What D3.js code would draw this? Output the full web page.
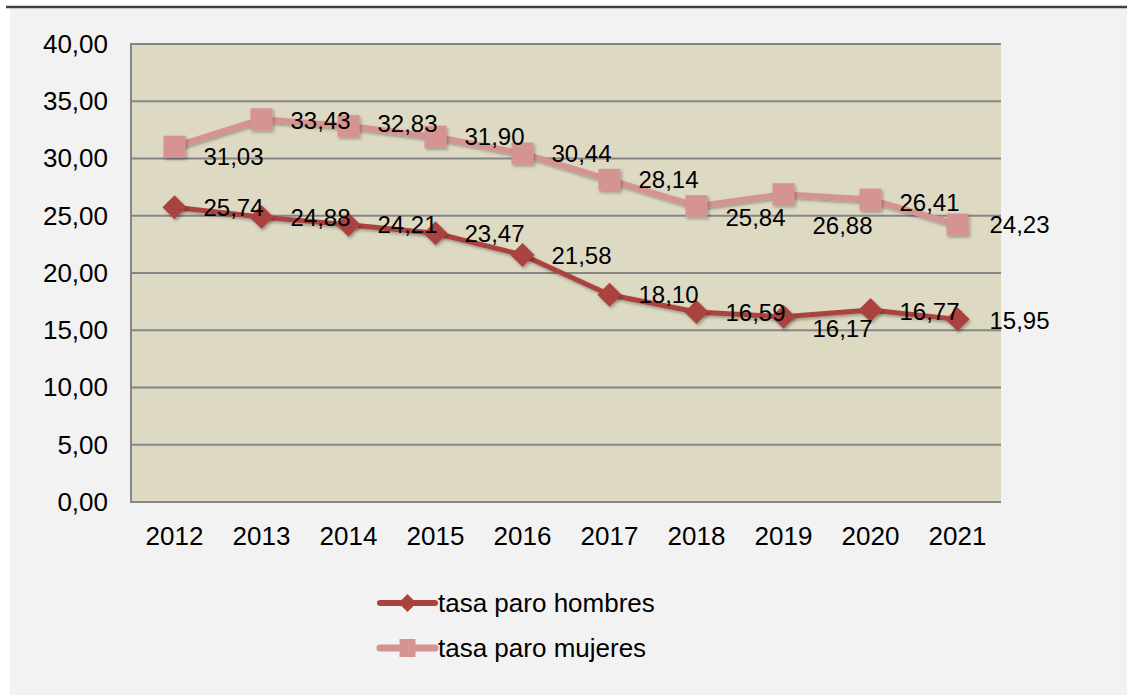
<!DOCTYPE html>
<html>
<head>
<meta charset="utf-8">
<script src="https://cdn.jsdelivr.net/npm/d3@7"></script>
<style>
  html, body { margin: 0; padding: 0; background: #fff; }
  svg { display: block; font-family: "Liberation Sans", Arial, sans-serif; }
</style>
</head>
<body>
<script>
// datos
const years = ["2012", "2013", "2014", "2015", "2016", "2017", "2018", "2019", "2020", "2021"];
const hombres = [25.74, 24.88, 24.21, 23.47, 21.58, 18.10, 16.59, 16.17, 16.77, 15.95];
const mujeres = [31.03, 33.43, 32.83, 31.90, 30.44, 28.14, 25.84, 26.88, 26.41, 24.23];
const yTicks = [0, 5, 10, 15, 20, 25, 30, 35, 40];
const seriesNames = ["tasa paro hombres", "tasa paro mujeres"];
// desplazamiento vertical de etiquetas (px), como en el original
const shiftHombres = [0, 0, 0, 0, 0, 0, 0, 12, 1, 1];
const shiftMujeres = [10, 1, -3, 0, 0, 0, 11, 31, 3, 0];

const W = 1127, H = 695;
const plot = { left: 131, right: 1001, top: 44, bottom: 502 };
const fmt = v => v.toFixed(2).replace(".", ",");
const FONT = "Liberation Sans, Arial, sans-serif";

const svg = d3.select("body").append("svg").attr("width", W).attr("height", H);

const defs = svg.append("defs");
const f = defs.append("filter").attr("id", "sh").attr("x", "-30%").attr("y", "-30%").attr("width", "160%").attr("height", "160%");
f.append("feDropShadow").attr("dx", 1.5).attr("dy", 2).attr("stdDeviation", 1.5).attr("flood-color", "#000").attr("flood-opacity", 0.3);

// fondo
svg.append("rect").attr("x", 10).attr("y", 8).attr("width", W - 10).attr("height", H - 8).attr("fill", "#f2f2f2");
svg.append("line").attr("x1", 6).attr("x2", W).attr("y1", 7).attr("y2", 7).attr("stroke", "#404040").attr("stroke-width", 2.5);

const x = d3.scaleBand().domain(years).range([plot.left, plot.right]);
const y = d3.scaleLinear().domain([0, 40]).range([plot.bottom, plot.top]);

svg.append("rect")
  .attr("x", plot.left).attr("y", plot.top)
  .attr("width", plot.right - plot.left).attr("height", plot.bottom - plot.top)
  .attr("fill", "#ddd9c3");

// cuadrícula
svg.append("g")
  .selectAll("line").data(yTicks).join("line")
  .attr("x1", plot.left).attr("x2", plot.right)
  .attr("y1", d => y(d)).attr("y2", d => y(d))
  .attr("stroke", "#868686").attr("stroke-width", 2);

svg.append("line")
  .attr("x1", plot.left).attr("x2", plot.left)
  .attr("y1", plot.top - 1).attr("y2", plot.bottom + 1)
  .attr("stroke", "#868686").attr("stroke-width", 2);

// eje y
const yAxis = svg.append("g")
  .attr("transform", `translate(${plot.left},0)`)
  .call(d3.axisLeft(y).tickValues(yTicks).tickFormat(fmt).tickSize(0).tickPadding(23));
yAxis.select(".domain").remove();
yAxis.selectAll("text").attr("font-size", 26).attr("fill", "#000").attr("font-family", FONT);

// eje x
const xAxis = svg.append("g")
  .attr("transform", `translate(0,${plot.bottom})`)
  .call(d3.axisBottom(x).tickSize(0).tickPadding(25));
xAxis.select(".domain").remove();
xAxis.selectAll("text").attr("font-size", 26).attr("fill", "#000").attr("font-family", FONT);

const cx = d => x(d) + x.bandwidth() / 2;

const series = [
  { name: seriesNames[0], values: hombres, shift: shiftHombres, color: "#aa423f", width: 5, marker: "diamond" },
  { name: seriesNames[1], values: mujeres, shift: shiftMujeres, color: "#d59391", width: 6, marker: "square" }
];

const line = d3.line().x((d, i) => cx(years[i])).y(d => y(d));

function drawMarker(g, type, color) {
  if (type === "diamond") {
    g.append("path").attr("d", "M0,-12L12,0L0,12L-12,0Z").attr("fill", color).attr("filter", "url(#sh)");
  } else {
    g.append("rect").attr("x", -11).attr("y", -11).attr("width", 22).attr("height", 22).attr("fill", color).attr("filter", "url(#sh)");
  }
}

series.forEach(s => {
  svg.append("path").datum(s.values)
    .attr("d", line).attr("fill", "none")
    .attr("stroke", s.color).attr("stroke-width", s.width)
    .attr("stroke-linejoin", "round").attr("filter", "url(#sh)");
  s.values.forEach((v, i) => {
    const g = svg.append("g").attr("transform", `translate(${cx(years[i])},${y(v)})`);
    drawMarker(g, s.marker, s.color);
  });
});

// etiquetas de datos
series.forEach(s => {
  svg.append("g").selectAll("text").data(s.values).join("text")
    .attr("x", (d, i) => cx(years[i]) + 29 + (i === 9 ? 3 : 0))
    .attr("y", (d, i) => y(d) + s.shift[i])
    .attr("dy", "0.36em")
    .attr("font-size", 24).attr("fill", "#000").attr("font-family", FONT)
    .text(fmt);
});

// leyenda
const legend = svg.append("g");
series.forEach((s, i) => {
  const ly = 603 + i * 45;
  const g = legend.append("g").attr("transform", `translate(380,${ly})`);
  g.append("line").attr("x1", 0).attr("x2", 55).attr("y1", 0).attr("y2", 0)
    .attr("stroke", s.color).attr("stroke-width", s.width + 1).attr("stroke-linecap", "round");
  const m = g.append("g").attr("transform", "translate(27.5,0)");
  if (s.marker === "diamond") {
    m.append("path").attr("d", "M0,-9L9,0L0,9L-9,0Z").attr("fill", s.color);
  } else {
    m.append("rect").attr("x", -8).attr("y", -9).attr("width", 16).attr("height", 18).attr("fill", s.color);
  }
  g.append("text").attr("x", 58).attr("y", 0).attr("dy", "0.36em")
    .attr("font-size", 26).attr("fill", "#000").attr("font-family", FONT).text(s.name);
});
</script>
</body>
</html>
